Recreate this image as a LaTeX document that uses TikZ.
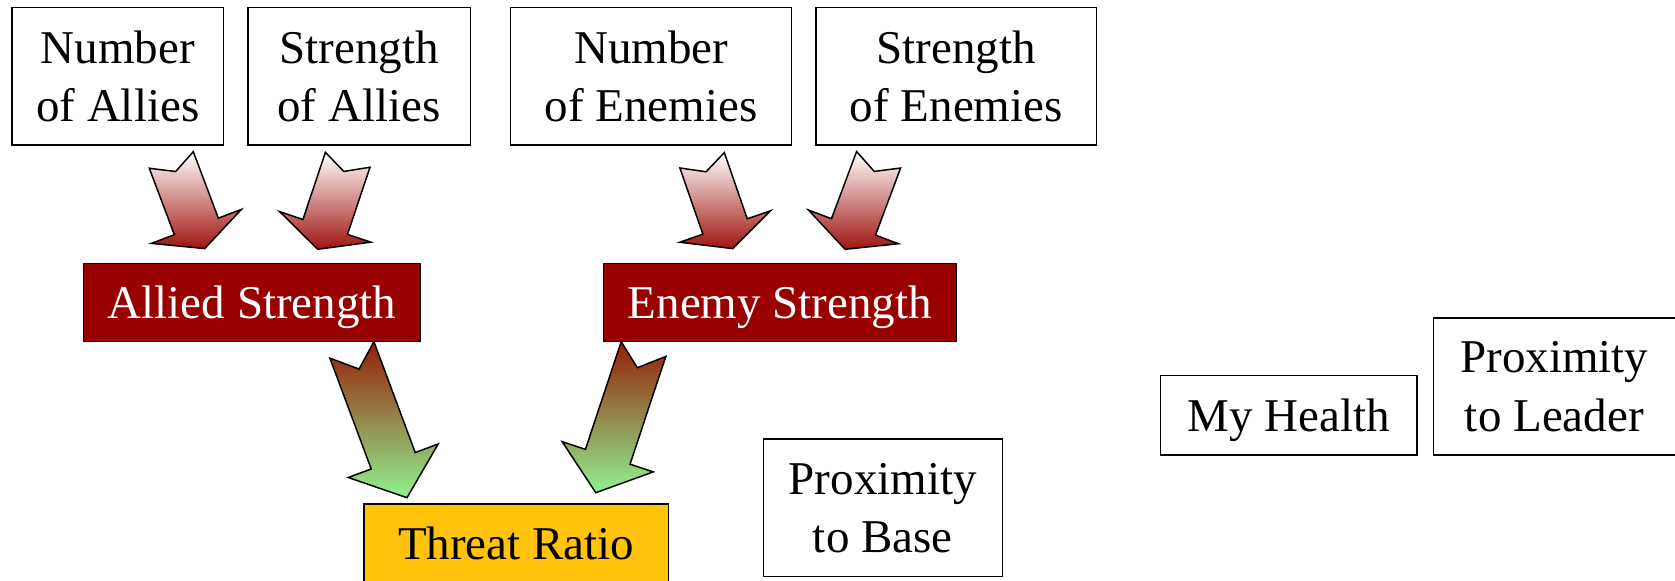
\documentclass[tikz,border=0pt]{standalone}
\usepackage{fontspec}
\setmainfont{Liberation Serif}
\usetikzlibrary{positioning, calc}
\definecolor{strengthred}{RGB}{153,0,0}
\definecolor{threatgold}{RGB}{255,195,12}
\definecolor{arrowred}{RGB}{160,20,16}
\definecolor{arrowbrown}{RGB}{150,30,6}
\definecolor{arrowgreen}{RGB}{144,242,144}
\tikzset{
  factor/.style={
    draw,
    line width=0.7pt,
    rectangle,
    align=center,
    fill=white,
    inner sep=0pt,
    text depth=0pt,
    font={\fontsize{23.5pt}{29.2pt}\selectfont}
  },
  tallfactor/.style={factor, minimum height=68.6pt},
  combined/.style={factor, minimum height=39.2pt, fill=strengthred, text=white},
  fatarrow/.style={
    draw,
    line width=0.75pt,
    line join=miter
  }
}
\newcommand{\fatarrow}[5]{%
  \coordinate (fatS) at #1;
  \coordinate (fatE) at #2;
  \draw[fatarrow, top color=#3, middle color=#4, bottom color=#5]
    ($(fatS)!11.75pt!90:(fatE)$) -- ($(fatS)!0.13!(fatE)$) -- ($(fatS)!11.75pt!-90:(fatE)$)
    -- ($(fatS)!0.75!(fatE)!11.75pt!-90:(fatE)$) -- ($(fatS)!0.75!(fatE)!24pt!-90:(fatE)$)
    -- (fatE)
    -- ($(fatS)!0.75!(fatE)!24pt!90:(fatE)$) -- ($(fatS)!0.75!(fatE)!11.75pt!90:(fatE)$) -- cycle;}

\begin{document}
\begin{tikzpicture}[x=0.5pt, y=-0.5pt]
    \useasboundingbox (0,0) rectangle (1675,581);

    \node[tallfactor, minimum width=105.9pt] (nAllies) at (117.7,76.3) {Number\\of Allies};
    \node[tallfactor, minimum width=111.25pt, right=11.4pt of nAllies] (sAllies) {Strength\\of Allies};
    \node[tallfactor, minimum width=140.6pt, right=19.4pt of sAllies] (nEnemies) {Number\\of Enemies};
    \node[tallfactor, minimum width=140.25pt, right=11.5pt of nEnemies] (sEnemies) {Strength\\of Enemies};

    \node[combined, minimum width=168.5pt] (alliedStr) at (252.1,302.5) {Allied Strength};
    \node[combined, minimum width=176.6pt] (enemyStr) at (779.9,302.5) {Enemy Strength};
    \node[factor, minimum width=152.2pt, minimum height=39.2pt, fill=threatgold] (threat) at (516.2,543.3) {Threat Ratio};
    \node[tallfactor, minimum width=119.5pt] (proxBase) at (882.8,507.7) {Proximity\\to Base};

    \node[factor, minimum width=128.25pt, minimum height=39.65pt] (myHealth) at (1288.8,415.4) {My Health};
    \node[tallfactor, minimum width=120.9pt, right=7.5pt of myHealth.south east, anchor=south west] (proxLeader) {Proximity\\to Leader};

    \fatarrow{($(nAllies.south east)+(-53,14.4)$)}{($(alliedStr.north west)+(121.8,-14)$)}{white}{arrowred!22!white}{arrowred}
    \fatarrow{($(sAllies.south west)+(100.6,14.2)$)}{($(alliedStr.north east)+(-103.6,-13.3)$)}{white}{arrowred!22!white}{arrowred}
    \fatarrow{($(nEnemies.south east)+(-90.3,14.7)$)}{($(enemyStr.north west)+(130.1,-14)$)}{white}{arrowred!22!white}{arrowred}
    \fatarrow{($(sEnemies.south west)+(63.2,14.2)$)}{($(enemyStr.north east)+(-112.1,-13.3)$)}{white}{arrowred!22!white}{arrowred}
    \fatarrow{($(alliedStr.south east)+(-69.4,7.5)$)}{($(threat.north west)+(43.7,-5.7)$)}{arrowbrown}{arrowgreen!55!arrowbrown}{arrowgreen}
    \fatarrow{($(enemyStr.south west)+(40.9,6.65)$)}{($(threat.north east)+(-73.3,-10.7)$)}{arrowbrown}{arrowgreen!55!arrowbrown}{arrowgreen}
\end{tikzpicture}
\end{document}
